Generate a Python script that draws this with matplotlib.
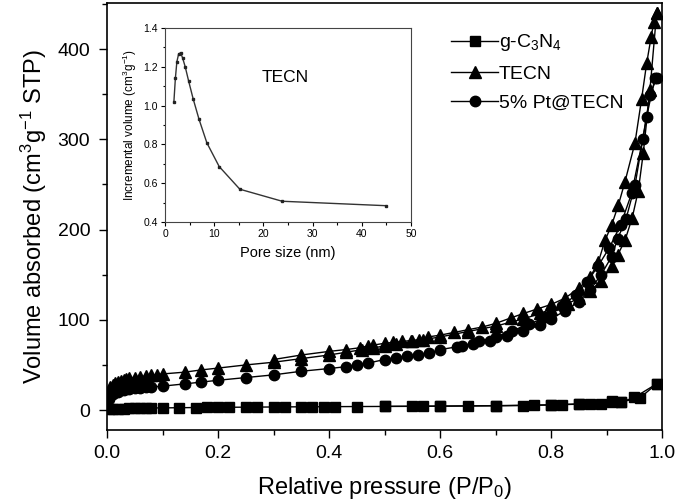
import numpy as np
import matplotlib
matplotlib.use('Agg')
import matplotlib.pyplot as plt
from matplotlib.ticker import MultipleLocator, FormatStrFormatter

plt.rcParams['font.family'] = ['Liberation Sans', 'DejaVu Sans']
plt.rcParams['mathtext.fontset'] = 'custom'
plt.rcParams['mathtext.rm'] = 'Liberation Sans'
plt.rcParams['mathtext.it'] = 'Liberation Sans'
plt.rcParams['mathtext.default'] = 'rm'

# g-C3N4 (squares)
gcn_ads_x = [0.003, 0.01, 0.02, 0.03, 0.04, 0.05, 0.06, 0.07, 0.08, 0.1, 0.13, 0.16, 0.18, 0.2,
             0.22, 0.25, 0.27, 0.3, 0.32, 0.35, 0.37, 0.39, 0.41, 0.45, 0.5, 0.55, 0.57, 0.6,
             0.65, 0.7, 0.75, 0.77, 0.8, 0.82, 0.85, 0.87, 0.89, 0.91, 0.925, 0.95, 0.99]
gcn_ads_y = [0.8, 1.2, 1.5, 1.7, 1.9, 2.0, 2.1, 2.2, 2.3, 2.4, 2.6, 2.8, 2.9, 3.0,
             3.1, 3.2, 3.3, 3.4, 3.5, 3.6, 3.6, 3.7, 3.8, 3.9, 4.0, 4.1, 4.2, 4.3,
             4.5, 4.7, 5.0, 5.3, 5.6, 6.0, 6.5, 7.0, 6.3, 9.0, 8.5, 14.0, 29.0]
gcn_des_x = [0.99, 0.96, 0.925, 0.91, 0.85, 0.8, 0.7, 0.6, 0.5]
gcn_des_y = [29.0, 13.5, 9.0, 9.5, 6.8, 5.8, 4.9, 4.4, 4.1]

# TECN (triangles)
tecn_ads_x = [0.0008, 0.003, 0.006, 0.01, 0.015, 0.02, 0.025, 0.03, 0.035, 0.04, 0.05, 0.06, 0.07,
              0.08, 0.09, 0.1, 0.14, 0.17, 0.2, 0.25, 0.3, 0.35, 0.4, 0.43, 0.46, 0.48, 0.5, 0.52,
              0.55, 0.57, 0.6, 0.65, 0.7, 0.75, 0.78, 0.8, 0.83, 0.85, 0.87, 0.89, 0.91, 0.92,
              0.933, 0.946, 0.957, 0.966, 0.978, 0.99]
tecn_ads_y = [5, 20, 25, 28, 30, 31.5, 32.5, 33.5, 34, 35, 36, 37, 37.5,
              38.5, 39, 40, 42, 44.5, 46.5, 50, 53, 57, 61, 64, 67, 69, 71, 73,
              76, 78, 81, 87, 93, 101, 107, 112, 118, 124, 132, 143, 160, 172,
              188, 213, 243, 285, 355, 440]
tecn_des_x = [0.99, 0.985, 0.98, 0.972, 0.963, 0.951, 0.933, 0.921, 0.909, 0.897, 0.885, 0.87,
              0.85, 0.825, 0.8, 0.775, 0.75, 0.727, 0.7, 0.676, 0.65, 0.625, 0.6, 0.578, 0.562,
              0.547, 0.532, 0.516, 0.5, 0.48, 0.47, 0.455, 0.43, 0.4, 0.35, 0.3]
tecn_des_y = [440, 430, 413, 384, 345, 296, 253, 227, 205, 188, 164, 147,
              135, 124, 117, 112, 107, 102, 96, 92, 89, 86, 83, 81, 78,
              77, 76, 75, 74, 72, 71, 69, 67, 65, 61, 56]

# 5% Pt@TECN (circles)
pt_ads_x = [0.0008, 0.003, 0.006, 0.01, 0.015, 0.02, 0.03, 0.04, 0.05, 0.06, 0.07, 0.08, 0.1,
            0.14, 0.17, 0.2, 0.25, 0.3, 0.35, 0.4, 0.43, 0.45, 0.47, 0.5, 0.52, 0.54, 0.56,
            0.58, 0.6, 0.63, 0.66, 0.69, 0.72, 0.75, 0.78, 0.8, 0.825, 0.85, 0.87, 0.89,
            0.909, 0.92, 0.935, 0.951, 0.972, 0.987]
pt_ads_y = [4, 12, 16, 18, 19.5, 20.5, 22, 23, 24, 24.5, 25, 25.5, 26.5,
            29, 31, 33, 36, 39, 43, 46, 48, 50, 52, 56, 58, 59.5, 61,
            63, 67, 70, 73, 77, 82, 88, 94, 101, 110, 120, 133, 150,
            170, 190, 212, 249, 325, 368]
pt_des_x = [0.99, 0.978, 0.965, 0.945, 0.925, 0.905, 0.885, 0.865, 0.845, 0.82, 0.79, 0.76,
            0.73, 0.7, 0.67, 0.64]
pt_des_y = [368, 349, 300, 240, 205, 180, 160, 142, 128, 115, 103, 95,
            88, 81, 76, 71]

# inset: pore size distribution
pore_x = [1.8, 2.1, 2.4, 2.75, 3.15, 3.55, 4.1, 4.8, 5.7, 6.9, 8.5, 11.0, 15.2, 23.8, 45.0]
pore_y = [1.02, 1.14, 1.225, 1.265, 1.272, 1.247, 1.2, 1.126, 1.036, 0.93, 0.808, 0.686,
          0.569, 0.507, 0.484]

fig = plt.figure(figsize=(6.75, 5.04), dpi=100)
ax = fig.add_axes([0.1585, 0.147, 0.8225, 0.847])

kw = dict(color='black', lw=1.0, mfc='black', mec='black')
ax.plot(gcn_des_x, gcn_des_y, marker='s', ms=6.5, **kw)
ax.plot(tecn_des_x, tecn_des_y, marker='^', ms=8, **kw)
ax.plot(pt_des_x, pt_des_y, marker='o', ms=7.5, **kw)
l1, = ax.plot(gcn_ads_x, gcn_ads_y, marker='s', ms=6.5, **kw)
l2, = ax.plot(tecn_ads_x, tecn_ads_y, marker='^', ms=8, **kw)
l3, = ax.plot(pt_ads_x, pt_ads_y, marker='o', ms=7.5, **kw)

ax.set_xlim(0, 1.0)
ax.set_ylim(-22, 451)
ax.xaxis.set_major_locator(MultipleLocator(0.2))
ax.xaxis.set_minor_locator(MultipleLocator(0.1))
ax.yaxis.set_major_locator(MultipleLocator(100))
ax.yaxis.set_minor_locator(MultipleLocator(50))
ax.xaxis.set_major_formatter(FormatStrFormatter('%.1f'))
ax.tick_params(which='major', direction='out', length=6, width=1, labelsize=14,
               top=False, right=False)
ax.tick_params(which='minor', direction='out', length=3.5, width=1, top=False, right=False)
ax.tick_params(axis='y', which='major', pad=6)
ax.tick_params(axis='x', which='major', pad=5)
for s in ax.spines.values():
    s.set_linewidth(1.2)
ax.set_xlabel('Relative pressure (P/P$_0$)', fontsize=17, labelpad=9)
ax.set_ylabel('Volume absorbed (cm$^3$g$^{-1}$ STP)', fontsize=17, labelpad=6)

leg = ax.legend([l1, l2, l3], ['g-C$_3$N$_4$', 'TECN', '5% Pt@TECN'],
                loc='upper right', bbox_to_anchor=(0.962, 0.972), frameon=False,
                fontsize=14, numpoints=1, handlelength=2.4, handletextpad=0.05,
                labelspacing=0.6)

# inset
axi = fig.add_axes([0.2445, 0.5595, 0.3645, 0.385])
axi.plot(pore_x, pore_y, color='#333333', lw=1.0, marker='s', ms=1.8,
         mfc='#222222', mec='#222222')
axi.set_xlim(0, 50)
axi.set_ylim(0.4, 1.4)
axi.xaxis.set_major_locator(MultipleLocator(10))
axi.xaxis.set_minor_locator(MultipleLocator(5))
axi.yaxis.set_major_locator(MultipleLocator(0.2))
axi.yaxis.set_minor_locator(MultipleLocator(0.1))
axi.yaxis.set_major_formatter(FormatStrFormatter('%.1f'))
axi.tick_params(which='major', direction='out', length=3, width=0.8, labelsize=7.5,
                top=False, right=False, pad=2)
axi.tick_params(which='minor', direction='out', length=1.8, width=0.8, top=False, right=False)
for s in axi.spines.values():
    s.set_linewidth(0.8)
    s.set_color('#444444')
axi.set_xlabel('Pore size (nm)', fontsize=10.5, labelpad=5)
axi.set_ylabel('Incremental volume (cm$^3$g$^{-1}$)', fontsize=8.5, labelpad=3)
axi.text(24.5, 1.145, 'TECN', fontsize=12.5, ha='center', va='center')

fig.savefig('out.png', dpi=100)
